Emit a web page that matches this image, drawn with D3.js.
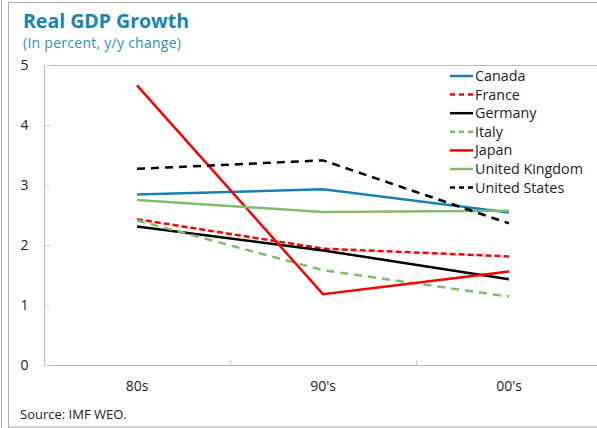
<!DOCTYPE html>
<html><head><meta charset="utf-8">
<script src="https://cdn.jsdelivr.net/npm/d3@7"></script>
<style>
html,body{margin:0;padding:0;background:#fff;}
svg{display:block;font-family:"Open Sans",sans-serif;}
</style></head>
<body><svg id="c" width="597" height="428"></svg>
<script>
const categories = ["80s", "90's", "00's"];
const seriesNames = ["Canada", "France", "Germany", "Italy", "Japan", "United Kingdom", "United States"];
const canada = [2.84, 2.93, 2.54];
const france = [2.43, 1.94, 1.81];
const germany = [2.31, 1.91, 1.43];
const italy = [2.41, 1.58, 1.14];
const japan = [4.66, 1.18, 1.56];
const unitedKingdom = [2.75, 2.55, 2.57];
const unitedStates = [3.27, 3.41, 2.36];
const yTicks = [0, 1, 2, 3, 4, 5];

const seriesValues = [canada, france, germany, italy, japan, unitedKingdom, unitedStates];
const styles = [
  {color:"#1a80b4", dash:null},
  {color:"#ff0000", dash:"6,3"},
  {color:"#000000", dash:null},
  {color:"#82bc6e", dash:"8,6"},
  {color:"#ff0000", dash:null},
  {color:"#82bc6e", dash:null},
  {color:"#000000", dash:"8,6"}
];

const svg = d3.select("#c");
// frame
svg.append("line").attr("x1",1.5).attr("x2",1.5).attr("y1",0).attr("y2",428).attr("stroke","#b0b0b0");
svg.append("rect").attr("x",8.5).attr("y",2.5).attr("width",620).attr("height",424.5)
  .attr("fill","none").attr("stroke","#b0b0b0");

svg.append("text").attr("x",23).attr("y",27.5).attr("fill","#1584b6")
  .attr("font-size",19.5).attr("font-weight","bold").text("Real GDP Growth");
svg.append("text").attr("x",23).attr("y",47.5).attr("fill","#2a8fc4")
  .attr("font-size",14).attr("textLength",158).text("(In percent, y/y change)");

const pLeft = 44, pTop = 65, pBottom = 365, bandW = 186;
const x = d3.scaleBand().domain(categories).range([pLeft, pLeft + bandW*3]);
const y = d3.scaleLinear().domain([0,5]).range([pBottom, pTop]);

const g = svg.append("g");
// plot border
g.append("rect").attr("x",pLeft+0.5).attr("y",pTop+0.5).attr("width",620).attr("height",pBottom-pTop)
  .attr("fill","none").attr("stroke","#b8b8b8");

// y axis
const yAxis = d3.axisLeft(y).tickValues(yTicks).tickSize(-6).tickPadding(16).tickFormat(d3.format("d"));
const ya = g.append("g").attr("transform",`translate(${pLeft+0.5},0)`).call(yAxis);
ya.select(".domain").remove();
ya.selectAll("line").attr("stroke","#d0d0d0");
ya.selectAll("text").attr("font-size",14).attr("fill","#222").attr("font-family","'Open Sans',sans-serif");

// x axis
const xAxis = d3.axisBottom(x).tickSize(0).tickPadding(16);
const xa = g.append("g").attr("transform",`translate(0,${pBottom+0.5})`).call(xAxis);
xa.select(".domain").remove();
xa.selectAll("text").attr("font-size",14).attr("fill","#222").attr("font-family","'Open Sans',sans-serif");
// band boundary ticks
g.selectAll(".bt").data(categories.slice(1)).enter().append("line")
  .attr("x1",d=>Math.round(x(d))+0.5).attr("x2",d=>Math.round(x(d))+0.5)
  .attr("y1",pBottom).attr("y2",pBottom-5).attr("stroke","#d0d0d0");

// lines
const line = d3.line().x((d,i)=>x(categories[i]) + x.bandwidth()/2).y(d=>y(d));
seriesValues.forEach((vals,i)=>{
  g.append("path").datum(vals).attr("d",line).attr("fill","none")
    .attr("stroke",styles[i].color).attr("stroke-width",2.5)
    .attr("stroke-dasharray",styles[i].dash);
});

// legend
const leg = svg.append("g");
seriesNames.forEach((n,i)=>{
  const yy = 76 + i*18.6;
  leg.append("line").attr("x1",450).attr("x2",473).attr("y1",yy).attr("y2",yy)
    .attr("stroke",styles[i].color).attr("stroke-width",2.5)
    .attr("stroke-dasharray",styles[i].dash ? "5,4" : null);
  leg.append("text").attr("x",475).attr("y",yy+5).attr("font-size",14.3).attr("fill","#222").text(n);
});

svg.append("text").attr("x",20).attr("y",419).attr("font-size",13).attr("fill","#222").text("Source: IMF WEO.");
</script></body></html>
